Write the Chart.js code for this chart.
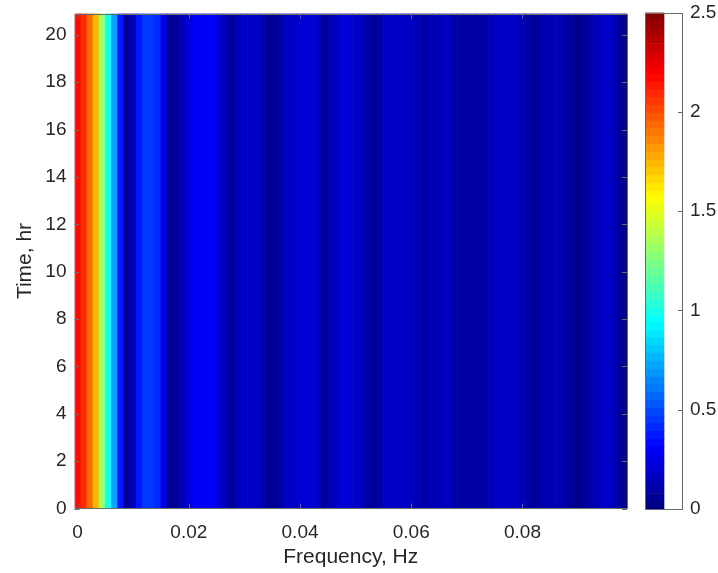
<!DOCTYPE html>
<html>
<head>
<meta charset="utf-8">
<script src="https://cdn.jsdelivr.net/npm/chart.js@4"></script>
<style>
  body { margin: 0; background: #fff; }
  #wrap { position: relative; width: 718px; height: 573px; }
  #main { position: absolute; left: 0; top: 0; }
  #cbar { position: absolute; left: 640px; top: 0; }
</style>
</head>
<body>
<div id="wrap">
  <canvas id="main" width="640" height="573"></canvas>
  <canvas id="cbar" width="78" height="573"></canvas>
</div>
<script>
'use strict';

// spectrum, one value per frequency bin (same for every time step)
const freqStep = 1 / 900; // Hz
const power = [
  2.17, 2.10, 1.95, 1.72, 1.33, 1.00, 0.72, 0.36, 0.05, 0.14,
  0.38, 0.45, 0.46, 0.40, 0.26, 0.07, 0.04, 0.15, 0.22, 0.28,
  0.30, 0.30, 0.28, 0.23, 0.15, 0.04, 0.13, 0.17, 0.18, 0.17,
  0.15, 0.07, 0.04, 0.11, 0.17, 0.19, 0.20, 0.21, 0.22, 0.19,
  0.06, 0.13, 0.19, 0.20, 0.20, 0.19, 0.17, 0.09, 0.04, 0.08,
  0.16, 0.18, 0.18, 0.17, 0.16, 0.12, 0.10, 0.13, 0.14, 0.15,
  0.16, 0.11, 0.09, 0.09, 0.08, 0.09, 0.11, 0.15, 0.16, 0.17,
  0.16, 0.16, 0.15, 0.09, 0.04, 0.08, 0.14, 0.15, 0.14, 0.11,
  0.05, 0.03, 0.04, 0.11, 0.15, 0.16, 0.16, 0.15, 0.07, 0.05
];
const freqs = power.map((_, i) => i * freqStep);
const timeTop = 20.9; // hr
const xTicks = [0, 0.02, 0.04, 0.06, 0.08];
const yTicks = [0, 2, 4, 6, 8, 10, 12, 14, 16, 18, 20];
const cbarTicks = [0, 0.5, 1, 1.5, 2, 2.5];
const cMax = 2.5;
const nLevels = 64;

const textColor = '#262626';
const fontFam = '"Liberation Sans", Arial, sans-serif';

function jet(t) {
  const c = v => Math.round(255 * Math.max(0, Math.min(1, v)));
  const r = c(1.5 - Math.abs(4 * t - 3));
  const g = c(1.5 - Math.abs(4 * t - 2));
  const b = c(1.5 - Math.abs(4 * t - 1));
  return `rgb(${r},${g},${b})`;
}
function colorFor(v) {
  let k = Math.floor(v / cMax * nLevels);
  k = Math.max(0, Math.min(nLevels - 1, k));
  return jet((k + 0.5) / nLevels);
}

// no extra room for half labels, the layout padding handles it
function noPad(s) {
  s.paddingTop = 0; s.paddingBottom = 0;
  s.paddingLeft = 0; s.paddingRight = 0;
}

// box + inward ticks, matlab style
const frame = {
  id: 'frame',
  afterDraw(chart, args, opts) {
    const { ctx, chartArea: a } = chart;
    ctx.save();
    ctx.strokeStyle = '#6a6a6a';
    ctx.lineWidth = 1;
    ctx.strokeRect(Math.round(a.left) + 0.5, Math.round(a.top) + 0.5,
      Math.round(a.right - a.left) - 1, Math.round(a.bottom - a.top) - 1);
    ctx.beginPath();
    const len = 5;
    if (opts.x) {
      const sx = chart.scales.x;
      sx.ticks.forEach(t => {
        const px = Math.round(sx.getPixelForValue(t.value)) + 0.5;
        ctx.moveTo(px, a.bottom); ctx.lineTo(px, a.bottom - len);
        ctx.moveTo(px, a.top); ctx.lineTo(px, a.top + len);
      });
    }
    const sy = chart.scales.y;
    sy.ticks.forEach(t => {
      const py = Math.round(sy.getPixelForValue(t.value)) + 0.5;
      if (opts.left) { ctx.moveTo(a.left, py); ctx.lineTo(a.left + len, py); }
      ctx.moveTo(a.right, py); ctx.lineTo(a.right - len, py);
    });
    ctx.stroke();
    ctx.restore();
  }
};

const tickFont = { family: fontFam, size: 19 };
const titleFont = { family: fontFam, size: 21 };

new Chart(document.getElementById('main'), {
  type: 'bar',
  data: {
    datasets: [{
      data: freqs.map(f => ({ x: f, y: timeTop })),
      backgroundColor: power.map(colorFor),
      borderWidth: 0,
      barPercentage: 1,
      categoryPercentage: 1
    }]
  },
  options: {
    responsive: false,
    animation: false,
    layout: { padding: { top: 13.5, right: 13, left: 0, bottom: 0 } },
    plugins: {
      legend: { display: false },
      tooltip: { enabled: false },
      frame: { x: true, left: true }
    },
    scales: {
      x: {
        type: 'linear',
        min: -freqStep / 2,
        max: 0.0988,
        offset: false,
        grid: { display: false, drawTicks: false },
        border: { display: false },
        afterBuildTicks: s => { s.ticks = xTicks.map(v => ({ value: v })); },
        afterFit: s => { s.height = 64.5; noPad(s); },
        ticks: { color: textColor, font: tickFont, padding: 13, callback: v => String(v) },
        title: { display: true, text: 'Frequency, Hz', color: textColor, font: titleFont, padding: { top: 0, bottom: 3 } }
      },
      y: {
        min: 0,
        max: timeTop,
        grid: { display: false, drawTicks: false },
        border: { display: false },
        afterBuildTicks: s => { s.ticks = yTicks.map(v => ({ value: v })); },
        afterFit: s => { s.width = 74.5; noPad(s); },
        ticks: { color: textColor, font: tickFont, padding: 8, callback: v => String(v) },
        title: { display: true, text: 'Time, hr', color: textColor, font: titleFont, padding: { top: 13, bottom: 0 } }
      }
    }
  },
  plugins: [frame]
});

// colorbar
const levels = Array.from({ length: nLevels }, (_, k) => k);
new Chart(document.getElementById('cbar'), {
  type: 'bar',
  data: {
    labels: ['c'],
    datasets: levels.map(k => ({
      data: [cMax / nLevels],
      backgroundColor: jet((k + 0.5) / nLevels),
      borderWidth: 0,
      barPercentage: 1,
      categoryPercentage: 1
    }))
  },
  options: {
    responsive: false,
    animation: false,
    layout: { padding: { top: 12.5, left: 5, right: 0, bottom: 64 } },
    plugins: {
      legend: { display: false },
      tooltip: { enabled: false },
      frame: { x: false, left: false }
    },
    scales: {
      x: { display: false, stacked: true, offset: false },
      y: {
        position: 'right',
        stacked: true,
        min: 0,
        max: cMax,
        grid: { display: false, drawTicks: false },
        border: { display: false },
        afterBuildTicks: s => { s.ticks = cbarTicks.map(v => ({ value: v })); },
        afterFit: s => { s.width = 35; noPad(s); },
        ticks: { color: textColor, font: tickFont, padding: 7, callback: v => String(v) }
      }
    }
  },
  plugins: [frame]
});
</script>
</body>
</html>
